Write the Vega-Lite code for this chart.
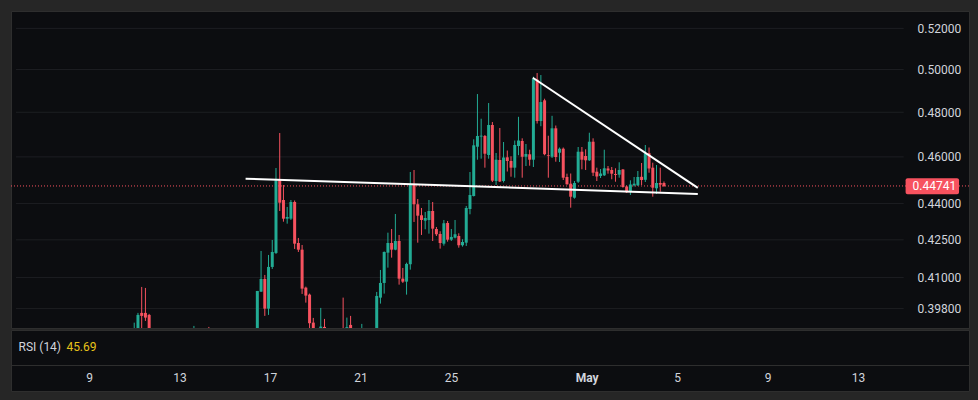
{
  "$schema": "https://vega.github.io/schema/vega-lite/v6.json",
  "background": "#262626",
  "padding": {"left": 10, "top": 10, "right": 10, "bottom": 12},
  "spacing": 0,
  "config": {
    "view": {"stroke": "#2e2e2e", "fill": "#0c0d10"},
    "axis": {"labelFont": "Roboto"},
    "text": {"font": "Roboto"}
  },
  "datasets": {
    "candles": [
      {"t": "2025-04-10T20:00:00Z", "o": 0.3880, "h": 0.3927, "l": 0.3865, "c": 0.3900},
      {"t": "2025-04-11T00:00:00Z", "o": 0.3890, "h": 0.39637, "l": 0.3880, "c": 0.39561},
      {"t": "2025-04-11T04:00:00Z", "o": 0.39637, "h": 0.40631, "l": 0.3890, "c": 0.39524},
      {"t": "2025-04-11T08:00:00Z", "o": 0.39637, "h": 0.40592, "l": 0.39335, "c": 0.39460},
      {"t": "2025-04-11T12:00:00Z", "o": 0.39561, "h": 0.39599, "l": 0.3885, "c": 0.3895},
      {"t": "2025-04-13T12:00:00Z", "o": 0.3870, "h": 0.39148, "l": 0.3860, "c": 0.3890},
      {"t": "2025-04-14T04:00:00Z", "o": 0.3895, "h": 0.39110, "l": 0.3860, "c": 0.3875},
      {"t": "2025-04-16T08:00:00Z", "o": 0.3885, "h": 0.40476, "l": 0.3870, "c": 0.40476},
      {"t": "2025-04-16T12:00:00Z", "o": 0.40449, "h": 0.42050, "l": 0.40437, "c": 0.40942},
      {"t": "2025-04-16T16:00:00Z", "o": 0.40942, "h": 0.41099, "l": 0.39524, "c": 0.39799},
      {"t": "2025-04-16T20:00:00Z", "o": 0.39799, "h": 0.41890, "l": 0.39561, "c": 0.41414},
      {"t": "2025-04-17T00:00:00Z", "o": 0.41414, "h": 0.42493, "l": 0.41335, "c": 0.42010},
      {"t": "2025-04-17T04:00:00Z", "o": 0.41970, "h": 0.45514, "l": 0.41930, "c": 0.44983},
      {"t": "2025-04-17T08:00:00Z", "o": 0.44983, "h": 0.47059, "l": 0.43685, "c": 0.44033},
      {"t": "2025-04-17T12:00:00Z", "o": 0.44146, "h": 0.44782, "l": 0.43242, "c": 0.43366},
      {"t": "2025-04-17T16:00:00Z", "o": 0.43366, "h": 0.43853, "l": 0.43160, "c": 0.43437},
      {"t": "2025-04-17T20:00:00Z", "o": 0.43366, "h": 0.44146, "l": 0.43312, "c": 0.44062},
      {"t": "2025-04-18T00:00:00Z", "o": 0.44062, "h": 0.44125, "l": 0.42131, "c": 0.42344},
      {"t": "2025-04-18T04:00:00Z", "o": 0.42372, "h": 0.42575, "l": 0.42010, "c": 0.42102},
      {"t": "2025-04-18T08:00:00Z", "o": 0.42102, "h": 0.42291, "l": 0.40361, "c": 0.40565},
      {"t": "2025-04-18T12:00:00Z", "o": 0.40604, "h": 0.40643, "l": 0.40027, "c": 0.40296},
      {"t": "2025-04-18T16:00:00Z", "o": 0.40334, "h": 0.40373, "l": 0.39036, "c": 0.39249},
      {"t": "2025-04-18T20:00:00Z", "o": 0.39271, "h": 0.39448, "l": 0.3870, "c": 0.3890},
      {"t": "2025-04-19T04:00:00Z", "o": 0.3895, "h": 0.39826, "l": 0.3880, "c": 0.39122},
      {"t": "2025-04-19T08:00:00Z", "o": 0.39110, "h": 0.39410, "l": 0.3880, "c": 0.3895},
      {"t": "2025-04-20T04:00:00Z", "o": 0.3900, "h": 0.40219, "l": 0.3860, "c": 0.3880},
      {"t": "2025-04-20T08:00:00Z", "o": 0.3903, "h": 0.39460, "l": 0.3890, "c": 0.3910},
      {"t": "2025-04-20T12:00:00Z", "o": 0.39185, "h": 0.39524, "l": 0.3890, "c": 0.3903},
      {"t": "2025-04-21T00:00:00Z", "o": 0.3880, "h": 0.39223, "l": 0.3870, "c": 0.3900},
      {"t": "2025-04-21T16:00:00Z", "o": 0.3885, "h": 0.40438, "l": 0.3875, "c": 0.40284},
      {"t": "2025-04-21T20:00:00Z", "o": 0.40219, "h": 0.41295, "l": 0.39990, "c": 0.40786},
      {"t": "2025-04-22T00:00:00Z", "o": 0.40786, "h": 0.42030, "l": 0.40373, "c": 0.42010},
      {"t": "2025-04-22T04:00:00Z", "o": 0.41982, "h": 0.42791, "l": 0.41386, "c": 0.42372},
      {"t": "2025-04-22T08:00:00Z", "o": 0.42372, "h": 0.42942, "l": 0.41783, "c": 0.42102},
      {"t": "2025-04-22T12:00:00Z", "o": 0.42102, "h": 0.43561, "l": 0.42078, "c": 0.42453},
      {"t": "2025-04-22T16:00:00Z", "o": 0.42453, "h": 0.42697, "l": 0.40720, "c": 0.40954},
      {"t": "2025-04-22T20:00:00Z", "o": 0.40954, "h": 0.41374, "l": 0.40786, "c": 0.40837},
      {"t": "2025-04-23T00:00:00Z", "o": 0.40837, "h": 0.41584, "l": 0.40334, "c": 0.41533},
      {"t": "2025-04-23T04:00:00Z", "o": 0.41521, "h": 0.45341, "l": 0.41307, "c": 0.44782},
      {"t": "2025-04-23T08:00:00Z", "o": 0.44782, "h": 0.45427, "l": 0.43230, "c": 0.43966},
      {"t": "2025-04-23T12:00:00Z", "o": 0.43966, "h": 0.44188, "l": 0.42384, "c": 0.43490},
      {"t": "2025-04-23T16:00:00Z", "o": 0.43507, "h": 0.43811, "l": 0.42697, "c": 0.43312},
      {"t": "2025-04-23T20:00:00Z", "o": 0.43283, "h": 0.43644, "l": 0.42930, "c": 0.43395},
      {"t": "2025-04-24T00:00:00Z", "o": 0.43312, "h": 0.44146, "l": 0.42750, "c": 0.43685},
      {"t": "2025-04-24T04:00:00Z", "o": 0.43685, "h": 0.44062, "l": 0.42453, "c": 0.42955},
      {"t": "2025-04-24T08:00:00Z", "o": 0.42942, "h": 0.43024, "l": 0.42656, "c": 0.42726},
      {"t": "2025-04-24T12:00:00Z", "o": 0.42738, "h": 0.42848, "l": 0.42143, "c": 0.42372},
      {"t": "2025-04-24T16:00:00Z", "o": 0.42344, "h": 0.43312, "l": 0.42264, "c": 0.43176},
      {"t": "2025-04-24T20:00:00Z", "o": 0.43188, "h": 0.43271, "l": 0.42425, "c": 0.42506},
      {"t": "2025-04-25T00:00:00Z", "o": 0.42506, "h": 0.42942, "l": 0.42453, "c": 0.42616},
      {"t": "2025-04-25T04:00:00Z", "o": 0.42587, "h": 0.43312, "l": 0.42555, "c": 0.42726},
      {"t": "2025-04-25T08:00:00Z", "o": 0.42656, "h": 0.42766, "l": 0.42183, "c": 0.42280},
      {"t": "2025-04-25T12:00:00Z", "o": 0.42280, "h": 0.42522, "l": 0.42224, "c": 0.42412},
      {"t": "2025-04-25T16:00:00Z", "o": 0.42384, "h": 0.43895, "l": 0.42251, "c": 0.43811},
      {"t": "2025-04-25T20:00:00Z", "o": 0.43769, "h": 0.45341, "l": 0.43547, "c": 0.44357},
      {"t": "2025-04-26T00:00:00Z", "o": 0.44315, "h": 0.46777, "l": 0.44294, "c": 0.46510},
      {"t": "2025-04-26T04:00:00Z", "o": 0.46448, "h": 0.48842, "l": 0.45876, "c": 0.46925},
      {"t": "2025-04-26T08:00:00Z", "o": 0.46900, "h": 0.47705, "l": 0.45920, "c": 0.46940},
      {"t": "2025-04-26T12:00:00Z", "o": 0.46925, "h": 0.46970, "l": 0.45528, "c": 0.46139},
      {"t": "2025-04-26T16:00:00Z", "o": 0.46082, "h": 0.48425, "l": 0.45920, "c": 0.47420},
      {"t": "2025-04-26T20:00:00Z", "o": 0.47420, "h": 0.47555, "l": 0.44910, "c": 0.44966},
      {"t": "2025-04-27T00:00:00Z", "o": 0.44953, "h": 0.46170, "l": 0.44782, "c": 0.45876},
      {"t": "2025-04-27T04:00:00Z", "o": 0.45863, "h": 0.47284, "l": 0.44910, "c": 0.44932},
      {"t": "2025-04-27T08:00:00Z", "o": 0.44953, "h": 0.46657, "l": 0.44889, "c": 0.45972},
      {"t": "2025-04-27T12:00:00Z", "o": 0.45981, "h": 0.46280, "l": 0.45362, "c": 0.45819},
      {"t": "2025-04-27T16:00:00Z", "o": 0.45819, "h": 0.46025, "l": 0.45138, "c": 0.45528},
      {"t": "2025-04-27T20:00:00Z", "o": 0.45528, "h": 0.46723, "l": 0.45095, "c": 0.46524},
      {"t": "2025-04-28T00:00:00Z", "o": 0.46480, "h": 0.47792, "l": 0.46073, "c": 0.46723},
      {"t": "2025-04-28T04:00:00Z", "o": 0.46701, "h": 0.46822, "l": 0.45095, "c": 0.46008},
      {"t": "2025-04-28T08:00:00Z", "o": 0.46008, "h": 0.46568, "l": 0.45601, "c": 0.46126},
      {"t": "2025-04-28T12:00:00Z", "o": 0.46113, "h": 0.46315, "l": 0.45614, "c": 0.45876},
      {"t": "2025-04-28T16:00:00Z", "o": 0.45876, "h": 0.49660, "l": 0.45558, "c": 0.49565},
      {"t": "2025-04-28T20:00:00Z", "o": 0.49518, "h": 0.49830, "l": 0.47487, "c": 0.47600},
      {"t": "2025-04-29T00:00:00Z", "o": 0.47600, "h": 0.49736, "l": 0.47365, "c": 0.48471},
      {"t": "2025-04-29T04:00:00Z", "o": 0.48550, "h": 0.48625, "l": 0.46069, "c": 0.46117},
      {"t": "2025-04-29T08:00:00Z", "o": 0.46069, "h": 0.46938, "l": 0.45095, "c": 0.46038},
      {"t": "2025-04-29T12:00:00Z", "o": 0.46008, "h": 0.47838, "l": 0.45951, "c": 0.47271},
      {"t": "2025-04-29T16:00:00Z", "o": 0.47271, "h": 0.47397, "l": 0.45788, "c": 0.45995},
      {"t": "2025-04-29T20:00:00Z", "o": 0.46183, "h": 0.46413, "l": 0.45775, "c": 0.46360},
      {"t": "2025-04-30T00:00:00Z", "o": 0.46360, "h": 0.46413, "l": 0.44996, "c": 0.45095},
      {"t": "2025-04-30T04:00:00Z", "o": 0.45125, "h": 0.45268, "l": 0.44795, "c": 0.44812},
      {"t": "2025-04-30T08:00:00Z", "o": 0.44838, "h": 0.45276, "l": 0.43823, "c": 0.44285},
      {"t": "2025-04-30T12:00:00Z", "o": 0.44243, "h": 0.44953, "l": 0.44201, "c": 0.44868},
      {"t": "2025-04-30T16:00:00Z", "o": 0.44923, "h": 0.46435, "l": 0.44868, "c": 0.46227},
      {"t": "2025-04-30T20:00:00Z", "o": 0.46227, "h": 0.46435, "l": 0.45458, "c": 0.45876},
      {"t": "2025-05-01T00:00:00Z", "o": 0.46038, "h": 0.46333, "l": 0.45428, "c": 0.45850},
      {"t": "2025-05-01T04:00:00Z", "o": 0.45850, "h": 0.47072, "l": 0.45819, "c": 0.46670},
      {"t": "2025-05-01T08:00:00Z", "o": 0.46670, "h": 0.46822, "l": 0.45168, "c": 0.45311},
      {"t": "2025-05-01T12:00:00Z", "o": 0.45354, "h": 0.45528, "l": 0.44953, "c": 0.45147},
      {"t": "2025-05-01T16:00:00Z", "o": 0.45168, "h": 0.45471, "l": 0.45082, "c": 0.45276},
      {"t": "2025-05-01T20:00:00Z", "o": 0.45198, "h": 0.46315, "l": 0.45168, "c": 0.45502},
      {"t": "2025-05-02T00:00:00Z", "o": 0.45493, "h": 0.45601, "l": 0.45268, "c": 0.45406},
      {"t": "2025-05-02T04:00:00Z", "o": 0.45428, "h": 0.45558, "l": 0.45027, "c": 0.45268},
      {"t": "2025-05-02T08:00:00Z", "o": 0.45255, "h": 0.45502, "l": 0.44923, "c": 0.45215},
      {"t": "2025-05-02T12:00:00Z", "o": 0.45225, "h": 0.45763, "l": 0.45095, "c": 0.45428},
      {"t": "2025-05-02T16:00:00Z", "o": 0.45449, "h": 0.45471, "l": 0.44667, "c": 0.44697},
      {"t": "2025-05-02T20:00:00Z", "o": 0.44718, "h": 0.44761, "l": 0.44441, "c": 0.44475},
      {"t": "2025-05-03T00:00:00Z", "o": 0.44484, "h": 0.44983, "l": 0.44357, "c": 0.44803},
      {"t": "2025-05-03T04:00:00Z", "o": 0.44769, "h": 0.45125, "l": 0.44718, "c": 0.44838},
      {"t": "2025-05-03T08:00:00Z", "o": 0.44769, "h": 0.45384, "l": 0.44740, "c": 0.45125},
      {"t": "2025-05-03T12:00:00Z", "o": 0.45134, "h": 0.45732, "l": 0.44782, "c": 0.44996},
      {"t": "2025-05-03T16:00:00Z", "o": 0.45005, "h": 0.46524, "l": 0.44910, "c": 0.46157},
      {"t": "2025-05-03T20:00:00Z", "o": 0.46161, "h": 0.46413, "l": 0.45311, "c": 0.45493},
      {"t": "2025-05-04T00:00:00Z", "o": 0.45528, "h": 0.45745, "l": 0.44285, "c": 0.44667},
      {"t": "2025-05-04T04:00:00Z", "o": 0.44641, "h": 0.45645, "l": 0.44399, "c": 0.44868},
      {"t": "2025-05-04T08:00:00Z", "o": 0.44868, "h": 0.45528, "l": 0.44496, "c": 0.44795},
      {"t": "2025-05-04T12:00:00Z", "o": 0.44868, "h": 0.44932, "l": 0.44697, "c": 0.44741}
    ],
    "trendlines": [
      {"line": "support", "t": "2025-04-15T19:24:00Z", "p": 0.45054},
      {"line": "support", "t": "2025-05-06T00:16:00Z", "p": 0.44401},
      {"line": "resistance", "t": "2025-04-28T15:24:00Z", "p": 0.49609},
      {"line": "resistance", "t": "2025-05-06T00:16:00Z", "p": 0.44656}
    ],
    "gridlines": [
      {"p": 0.398}, {"p": 0.41}, {"p": 0.425}, {"p": 0.44},
      {"p": 0.46}, {"p": 0.48}, {"p": 0.50}, {"p": 0.52}
    ],
    "last": [{"price": 0.44741, "label": "0.44741"}],
    "legend": [{"name": "RSI (14)", "value": "45.69"}]
  },
  "vconcat": [
    {
      "width": 958,
      "height": 317,
      "layer": [
        {
          "data": {"name": "gridlines"},
          "mark": {"type": "rule", "color": "#1d1e22", "strokeWidth": 1},
          "encoding": {
            "y": {
              "field": "p", "type": "quantitative",
              "scale": {"type": "log", "domain": [0.3907, 0.5287], "nice": false, "zero": false},
              "axis": {
                "orient": "right", "offset": -52, "values": [0.398, 0.41, 0.425, 0.44, 0.46, 0.48, 0.5, 0.52],
                "format": ".5f", "title": null, "domain": false, "ticks": false, "tickSize": 0,
                "labelPadding": 0, "labelAlign": "left", "labelBaseline": "middle", "grid": false,
                "labelColor": "#d1d4dc", "labelFontSize": 12, "labelOverlap": false
              }
            },
            "x": {
              "datum": {"year": 2025, "month": 4, "date": 5, "hours": 13, "minutes": 14, "utc": true},
              "type": "temporal",
              "scale": {"type": "utc", "domain": [
                {"year": 2025, "month": 4, "date": 5, "hours": 13, "minutes": 14, "utc": true},
                {"year": 2025, "month": 5, "date": 17, "hours": 21, "minutes": 42, "utc": true}
              ]},
              "axis": null
            },
            "x2": {"datum": {"year": 2025, "month": 5, "date": 15, "hours": 5, "utc": true}}
          }
        },
        {
          "data": {"name": "last"},
          "mark": {"type": "rule", "color": "#f7525f", "strokeWidth": 1, "strokeDash": [1, 2]},
          "encoding": {
            "y": {"field": "price", "type": "quantitative"}
          }
        },
        {
          "data": {"name": "candles"},
          "mark": {"type": "rule", "strokeWidth": 1, "clip": true},
          "encoding": {
            "x": {"field": "t", "type": "temporal", "axis": null},
            "y": {"field": "l", "type": "quantitative"},
            "y2": {"field": "h"},
            "color": {"condition": {"test": "datum.c >= datum.o", "value": "#22ab94"}, "value": "#f7525f"}
          }
        },
        {
          "data": {"name": "candles"},
          "mark": {"type": "bar", "width": 3, "clip": true},
          "encoding": {
            "x": {"field": "t", "type": "temporal", "axis": null},
            "y": {"field": "o", "type": "quantitative"},
            "y2": {"field": "c"},
            "color": {"condition": {"test": "datum.c >= datum.o", "value": "#22ab94"}, "value": "#f7525f"}
          }
        },
        {
          "data": {"name": "trendlines"},
          "mark": {"type": "line", "color": "#ffffff", "strokeWidth": 2, "clip": true},
          "encoding": {
            "x": {"field": "t", "type": "temporal", "axis": null},
            "y": {"field": "p", "type": "quantitative"},
            "detail": {"field": "line"}
          }
        },
        {
          "data": {"name": "last"},
          "mark": {"type": "rect", "color": "#f7525f", "cornerRadius": 2},
          "encoding": {
            "x": {"datum": {"year": 2025, "month": 5, "date": 15, "hours": 7, "minutes": 5, "utc": true}, "type": "temporal", "axis": null},
            "x2": {"datum": {"year": 2025, "month": 5, "date": 17, "hours": 16, "minutes": 23, "utc": true}},
            "y": {"datum": 0.45069, "type": "quantitative"},
            "y2": {"datum": 0.44387}
          }
        },
        {
          "data": {"name": "last"},
          "mark": {"type": "text", "color": "#ffffff", "fontSize": 12, "align": "left", "baseline": "middle"},
          "encoding": {
            "x": {"datum": {"year": 2025, "month": 5, "date": 15, "hours": 14, "minutes": 31, "utc": true}, "type": "temporal", "axis": null},
            "y": {"field": "price", "type": "quantitative"},
            "text": {"field": "label"}
          }
        }
      ]
    },
    {
      "width": 958,
      "height": 61,
      "layer": [
        {
          "data": {"name": "legend"},
          "mark": {"type": "text", "color": "#d1d4dc", "fontSize": 12, "align": "left", "baseline": "middle"},
          "encoding": {
            "x": {
              "datum": {"year": 2025, "month": 4, "date": 5, "hours": 21, "minutes": 12, "utc": true},
              "type": "temporal",
              "scale": {"type": "utc", "domain": [
                {"year": 2025, "month": 4, "date": 5, "hours": 13, "minutes": 14, "utc": true},
                {"year": 2025, "month": 5, "date": 17, "hours": 21, "minutes": 42, "utc": true}
              ]},
              "axis": {
                "orient": "bottom", "offset": -26, "title": null,
                "values": [
                  {"year": 2025, "month": 4, "date": 9, "utc": true},
                  {"year": 2025, "month": 4, "date": 13, "utc": true},
                  {"year": 2025, "month": 4, "date": 17, "utc": true},
                  {"year": 2025, "month": 4, "date": 21, "utc": true},
                  {"year": 2025, "month": 4, "date": 25, "utc": true},
                  {"year": 2025, "month": 5, "date": 1, "utc": true},
                  {"year": 2025, "month": 5, "date": 5, "utc": true},
                  {"year": 2025, "month": 5, "date": 9, "utc": true},
                  {"year": 2025, "month": 5, "date": 13, "utc": true}
                ],
                "labelExpr": "utcdate(datum.value) === 1 ? utcFormat(datum.value, '%b') : utcFormat(datum.value, '%-d')",
                "labelFontWeight": {"condition": {"test": "utcdate(datum.value) === 1", "value": "bold"}, "value": "normal"},
                "domain": true, "domainColor": "#2e2e2e", "domainWidth": 1,
                "ticks": false, "tickSize": 0, "grid": false,
                "labelPadding": 7, "labelColor": "#d1d4dc", "labelFontSize": 12,
                "labelFlush": false, "labelOverlap": false
              }
            },
            "y": {"datum": 72, "type": "quantitative", "scale": {"domain": [0, 100]}, "axis": null},
            "text": {"field": "name"}
          }
        },
        {
          "data": {"name": "legend"},
          "mark": {"type": "text", "color": "#e8c31a", "fontSize": 12, "align": "left", "baseline": "middle"},
          "encoding": {
            "x": {"datum": {"year": 2025, "month": 4, "date": 8, "utc": true}, "type": "temporal"},
            "y": {"datum": 72, "type": "quantitative", "axis": null},
            "text": {"field": "value"}
          }
        }
      ]
    }
  ]
}
